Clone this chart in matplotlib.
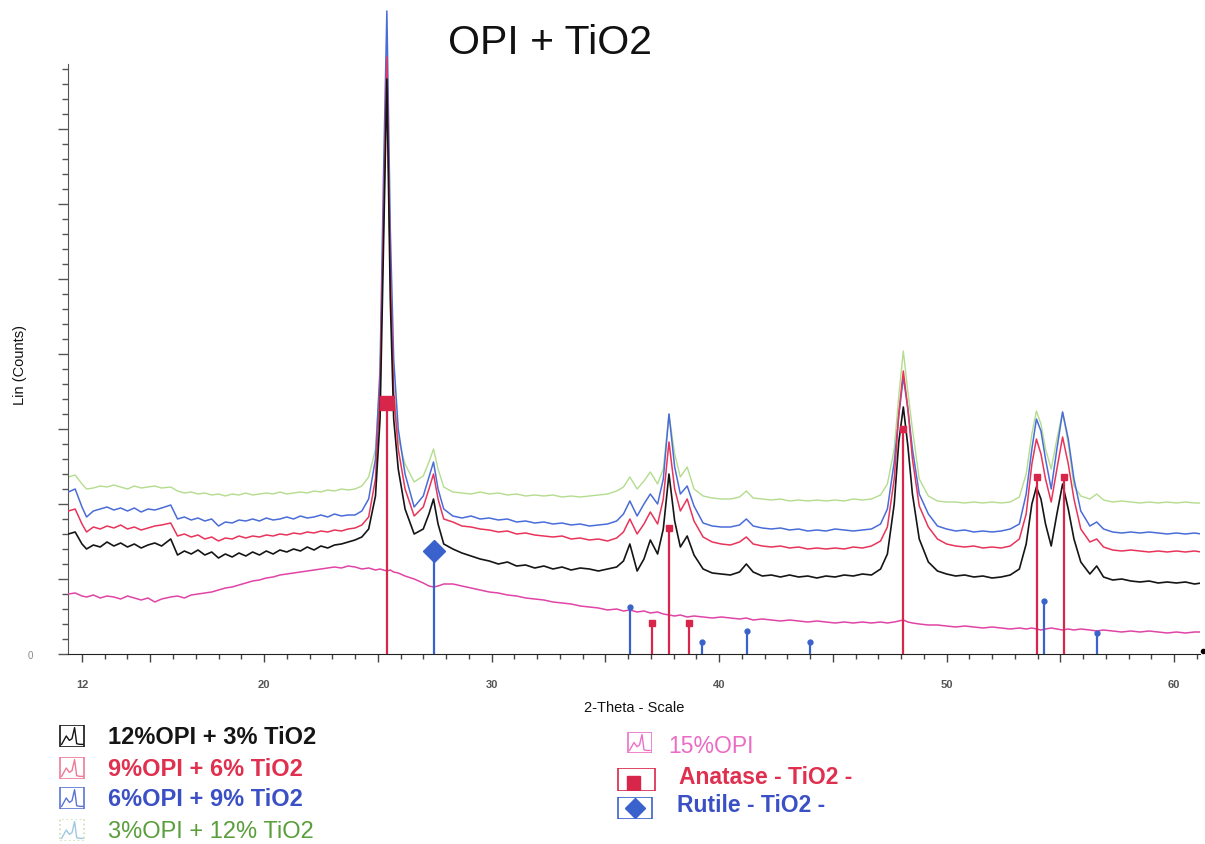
import matplotlib
matplotlib.use("Agg")
import matplotlib.pyplot as plt
from matplotlib.patches import Rectangle
from matplotlib.ticker import FixedLocator, FixedFormatter, MultipleLocator

plt.rcParams['font.family'] = ['Liberation Sans', 'DejaVu Sans']

# 2-theta grid (deg)
two_theta = [
    11.4, 11.7, 12.0, 12.2, 12.5, 12.8, 13.1, 13.4, 13.7, 14.0,
    14.3, 14.6, 14.9, 15.2, 15.5, 15.9, 16.2, 16.5, 16.8, 17.1,
    17.4, 17.7, 18.0, 18.3, 18.6, 18.9, 19.2, 19.5, 19.8, 20.1,
    20.4, 20.7, 21.0, 21.3, 21.6, 21.9, 22.2, 22.5, 22.8, 23.1,
    23.4, 23.7, 24.0, 24.3, 24.6, 24.9, 25.1, 25.25, 25.4, 25.55,
    25.7, 25.9, 26.2, 26.6, 27.0, 27.25, 27.45, 27.65, 27.9, 28.3,
    28.7, 29.1, 29.5, 29.9, 30.3, 30.7, 31.1, 31.5, 31.9, 32.3,
    32.7, 33.1, 33.5, 33.9, 34.3, 34.7, 35.1, 35.5, 35.8, 36.08,
    36.4, 36.7, 36.98, 37.3, 37.55, 37.8, 38.05, 38.3, 38.6, 38.9,
    39.3, 39.7, 40.1, 40.5, 40.9, 41.2, 41.5, 41.9, 42.3, 42.7,
    43.1, 43.5, 43.9, 44.3, 44.7, 45.1, 45.5, 45.9, 46.3, 46.7,
    47.1, 47.4, 47.7, 47.9, 48.1, 48.3, 48.5, 48.8, 49.2, 49.6,
    50.0, 50.4, 50.8, 51.2, 51.6, 52.0, 52.4, 52.8, 53.2, 53.5,
    53.75, 53.95, 54.15, 54.35, 54.6, 54.85, 55.1, 55.35, 55.6, 55.9,
    56.3, 56.6, 56.9, 57.3, 57.7, 58.1, 58.5, 58.9, 59.3, 59.7,
    60.1, 60.5, 60.9, 61.2]

opi12_tio2_3 = [
    120, 122, 110, 105, 109, 107, 112, 108, 111, 107,
    110, 106, 109, 111, 108, 115, 99, 103, 100, 104,
    99, 102, 96, 100, 97, 101, 98, 102, 99, 103,
    100, 104, 102, 105, 103, 107, 104, 108, 106, 109,
    110, 112, 114, 117, 125, 158, 235, 405, 575, 355,
    235, 185, 145, 120, 125, 140, 155, 130, 110, 105,
    101, 98, 95, 93, 90, 92, 88, 89, 86, 88,
    85, 87, 84, 86, 85, 83, 85, 87, 93, 110,
    83, 95, 114, 100, 125, 180, 133, 107, 118, 99,
    85, 81, 80, 79, 82, 90, 82, 78, 79, 77,
    79, 77, 78, 76, 78, 77, 79, 78, 80, 79,
    85, 100, 150, 212, 247, 208, 160, 115, 92, 83,
    80, 78, 79, 77, 78, 76, 77, 79, 85, 110,
    150, 167, 155, 130, 108, 140, 170, 145, 115, 92,
    80, 88, 77, 74, 75, 73, 72, 73, 71, 72,
    71, 72, 70, 71]

opi9_tio2_6 = [
    143, 145, 130, 122, 127, 125, 128, 126, 129, 125,
    127, 124, 126, 128, 129, 131, 118, 120, 117, 119,
    115, 117, 113, 116, 115, 118, 116, 118, 117, 119,
    118, 120, 119, 121, 120, 122, 121, 123, 122, 124,
    123, 125, 126, 129, 137, 175, 265, 435, 597, 385,
    260, 205, 165, 138, 147, 165, 180, 155, 135, 132,
    128, 127, 125, 124, 122, 123, 120, 121, 119, 118,
    117, 118, 115, 116, 114, 115, 113, 116, 122, 135,
    120, 130, 142, 130, 155, 212, 165, 143, 155, 133,
    117, 112, 110, 109, 112, 117, 110, 108, 107, 108,
    106, 107, 105, 106, 105, 106, 105, 107, 106, 108,
    113, 127, 175, 240, 283, 245, 195, 148, 127, 115,
    110, 108, 107, 108, 106, 107, 106, 108, 115, 140,
    190, 215, 200, 175, 152, 185, 217, 190, 155, 125,
    112, 115, 107, 104, 103, 104, 103, 102, 103, 102,
    103, 102, 103, 102]

opi6_tio2_9 = [
    162, 165, 147, 137, 143, 145, 147, 144, 146, 143,
    146, 142, 145, 144, 146, 149, 135, 137, 134, 136,
    133, 135, 128, 132, 131, 134, 133, 135, 133, 136,
    134, 135, 137, 135, 138, 136, 137, 139, 137, 140,
    138, 139, 139, 143, 155, 195, 285, 475, 643, 425,
    295, 225, 180, 147, 158, 177, 192, 165, 145, 138,
    136, 138, 135, 136, 134, 135, 132, 133, 131, 132,
    130, 131, 129, 130, 128, 129, 130, 133, 140, 153,
    138, 150, 160, 150, 175, 240, 187, 160, 168, 148,
    131, 128, 127, 127, 129, 135, 128, 126, 125, 126,
    124, 125, 123, 124, 123, 125, 124, 123, 124, 125,
    130, 145, 192, 238, 277, 245, 205, 160, 140, 128,
    125, 123, 124, 122, 123, 122, 123, 125, 130, 160,
    205, 235, 223, 195, 165, 205, 242, 215, 175, 143,
    128, 132, 125, 122, 121, 122, 121, 122, 121, 120,
    121, 120, 121, 120]

opi3_tio2_12 = [
    177, 179, 170, 165, 166, 168, 167, 169, 167, 165,
    168, 166, 167, 168, 166, 167, 163, 161, 162, 160,
    161, 159, 160, 158, 160, 159, 161, 159, 160, 161,
    160, 162, 160, 161, 162, 161, 163, 162, 164, 163,
    165, 164, 165, 168, 177, 205, 275, 425, 571, 375,
    265, 215, 190, 172, 178, 192, 205, 185, 167, 162,
    161, 160, 162, 160, 161, 159, 160, 158, 159, 158,
    159, 157, 158, 157, 158, 159, 160, 163, 167, 177,
    165, 173, 182, 170, 185, 240, 200, 177, 187, 165,
    158, 156, 155, 155, 157, 163, 156, 155, 154, 155,
    153, 154, 153, 154, 153, 154, 153, 155, 154, 155,
    159, 170, 205, 258, 303, 262, 225, 175, 158, 153,
    152, 152, 151, 152, 151, 152, 151, 152, 157, 180,
    220, 243, 230, 205, 185, 215, 242, 210, 168, 158,
    155, 160, 154, 152, 153, 152, 151, 152, 151, 152,
    151, 152, 151, 151]

opi15 = [
    60, 61, 58, 57, 59, 56, 58, 57, 55, 58,
    56, 54, 56, 52, 55, 57, 58, 56, 59, 60,
    61, 62, 64, 66, 67, 69, 71, 73, 74, 76,
    77, 79, 80, 81, 82, 83, 84, 85, 86, 87,
    86, 88, 87, 85, 86, 84, 85, 84, 83, 84,
    82, 81, 78, 75, 71, 68, 67, 68, 70, 70,
    68, 66, 64, 62, 61, 59, 58, 56, 55, 54,
    52, 51, 50, 48, 47, 46, 44, 45, 43, 44,
    42, 43, 41, 42, 40, 39, 38, 39, 37, 38,
    37, 36, 37, 36, 35, 36, 34, 35, 34, 33,
    34, 33, 32, 33, 32, 31, 32, 31, 32, 31,
    32, 31, 32, 33, 34, 32, 31, 30, 29, 29,
    28, 27, 28, 27, 26, 27, 26, 25, 26, 25,
    26, 25, 24, 25, 26, 25, 24, 25, 24, 25,
    24, 23, 24, 23, 22, 23, 22, 23, 22, 21,
    22, 21, 22, 22]

# reference stick patterns
anatase_pos = [25.4, 37.05, 37.8, 38.68, 48.1, 53.97, 55.15]
anatase_int = [251, 31, 126, 31, 225, 177, 177]
rutile_pos = [27.47, 36.09, 39.25, 41.23, 44.02, 54.3, 56.62]
rutile_int = [103, 47, 12, 23, 12, 53, 21]

x_labels = ['12', '', '20', '', '30', '', '40', '', '50', '', '60']
x_label_pos = [12, 15, 20, 25, 30, 35, 40, 45, 50, 55, 60]

for s in (opi12_tio2_3, opi9_tio2_6, opi6_tio2_9, opi3_tio2_12, opi15):
    assert len(s) == len(two_theta), len(s)

BLACK = '#151515'
RED = '#e8345a'
BLUE = '#4a6cd8'
GREEN = '#b4dc8e'
PINK = '#e044a6'
ANATASE = '#d8264a'
RUTILE = '#3a62cc'

W, H = 1205, 845
fig = plt.figure(figsize=(W / 100, H / 100), dpi=100)
ax = fig.add_axes([68 / W, 190 / H, 1132 / W, 645 / H])

ax.plot(two_theta, opi3_tio2_12, color=GREEN, lw=1.0, zorder=2)
ax.plot(two_theta, opi6_tio2_9, color=BLUE, lw=1.1, zorder=3)
ax.plot(two_theta, opi9_tio2_6, color=RED, lw=1.1, zorder=4)
ax.plot(two_theta, opi12_tio2_3, color=BLACK, lw=1.2, zorder=5)
ax.plot(two_theta, opi15, color=PINK, lw=1.1, zorder=4)

# sticks
ax.vlines(anatase_pos, 0, anatase_int, color=ANATASE, lw=1.6, zorder=6)
ax.vlines(rutile_pos, 0, rutile_int, color=RUTILE, lw=1.6, zorder=6)
ia = anatase_int.index(max(anatase_int))
ir = rutile_int.index(max(rutile_int))
ax.plot([p for i, p in enumerate(anatase_pos) if i != ia],
        [v for i, v in enumerate(anatase_int) if i != ia],
        's', color=ANATASE, ms=4, zorder=7)
ax.plot([p for i, p in enumerate(rutile_pos) if i != ir],
        [v for i, v in enumerate(rutile_int) if i != ir],
        'o', color=RUTILE, ms=3.5, zorder=7)
ax.plot(anatase_pos[ia], anatase_int[ia], 's', color=ANATASE, ms=9.5, zorder=7)
ax.plot(rutile_pos[ir], rutile_int[ir], 'D', color=RUTILE, ms=11.5, zorder=7)

ax.set_xlim(11.385, 61.14)
ax.set_ylim(0, 645)

for side in ('top', 'right'):
    ax.spines[side].set_visible(False)
ax.spines['left'].set_bounds(0, 590)
ax.spines['left'].set_color('#555555')
ax.spines['bottom'].set_color('#222222')

ax.xaxis.set_major_locator(FixedLocator(x_label_pos))
ax.xaxis.set_major_formatter(FixedFormatter(x_labels))
ax.xaxis.set_minor_locator(MultipleLocator(1))
ax.tick_params(axis='x', which='major', length=6, width=1, color='#444444',
               labelsize=8, labelcolor='#555555', pad=12)
ax.tick_params(axis='x', which='minor', length=3.5, width=1, color='#444444')
for t in ax.get_xticklabels():
    t.set_fontweight('bold')

y_major = list(range(0, 591, 75))
ax.yaxis.set_major_locator(FixedLocator(y_major))
ax.yaxis.set_major_formatter(FixedFormatter(['0'] + [''] * (len(y_major) - 1)))
ax.yaxis.set_minor_locator(FixedLocator(list(range(0, 591, 15))))
ax.tick_params(axis='y', which='major', length=7, width=1, color='#555555',
               labelsize=7, labelcolor='#888888', pad=18)
ax.tick_params(axis='y', which='minor', length=4, width=1, color='#555555')

# end dot of the x axis
ax.plot([1.003], [0.004], 'o', color='black', ms=3, transform=ax.transAxes, clip_on=False)

ax.set_ylabel('Lin (Counts)', fontsize=10.5, color='#111111')
ax.yaxis.set_label_coords(-0.036, 0.45)
ax.set_xlabel('2-Theta - Scale', fontsize=10.5, color='#111111')
ax.xaxis.set_label_coords(0.5, -0.071)

fig.text(550 / W, 1 - 43 / H, 'OPI + TiO2', fontsize=29.5, ha='center', va='center', color='#111111')

# legend
icon_glyph_x = [0.1, 0.28, 0.4, 0.5, 0.6, 0.68, 0.8, 0.92]
icon_glyph_y = [0.12, 0.5, 0.3, 0.38, 0.88, 0.15, 0.12, 0.12]


def icon(x0, y0, w, h, edge, kind, fill=None, ls='-'):
    iax = fig.add_axes([x0 / W, 1 - (y0 + h) / H, w / W, h / H])
    iax.set_xlim(0, 1)
    iax.set_ylim(0, 1)
    iax.axis('off')
    iax.add_patch(Rectangle((0.02, 0.02), 0.96, 0.96, fill=False, ec=edge, lw=1.2, ls=ls))
    if kind == 'glyph':
        iax.plot(icon_glyph_x, icon_glyph_y, color=fill, lw=1.0)
    elif kind == 'square':
        iax.add_patch(Rectangle((0.25, 0.02), 0.35, 0.65, color=fill))
    elif kind == 'diamond':
        iax.plot([0.5], [0.5], 'D', color=fill, ms=10)


legend_left = [
    ('12%OPI + 3% TiO2', BLACK, BLACK, 'bold', 738, '-'),
    ('9%OPI + 6% TiO2', '#e0304f', '#ee7a98', 'bold', 770, '-'),
    ('6%OPI + 9% TiO2', '#3a50c4', '#5a74d4', 'bold', 800, '-'),
    ('3%OPI + 12% TiO2', '#5a9e3c', '#c8e0b0', 'normal', 832, ':'),
]
for text, tcol, icol, wt, yc, ls in legend_left:
    icon(59, yc - 12, 26, 22, icol, 'glyph', fill=icol if ls == '-' else '#a0c8e0', ls=ls)
    fig.text(108 / W, 1 - yc / H, text, color=tcol, fontsize=17, fontweight=wt,
             ha='left', va='center')

icon(627, 733, 25, 21, '#ee70c8', 'glyph', fill='#ee70c8')
fig.text(668 / W, 1 - 747 / H, '15%OPI', color='#ea6cc4', fontsize=16.5, ha='left', va='center')
icon(617, 769, 39, 23, ANATASE, 'square', fill=ANATASE)
fig.text(679 / W, 1 - 777 / H, 'Anatase - TiO2 -', color='#e0304f', fontsize=16.5,
         fontweight='bold', ha='left', va='center')
icon(617, 798, 36, 22, RUTILE, 'diamond', fill=RUTILE)
fig.text(677 / W, 1 - 806 / H, 'Rutile - TiO2 -', color='#3a50c4', fontsize=16.5,
         fontweight='bold', ha='left', va='center')

fig.savefig('out.png', dpi=100)
plt.close('all')
